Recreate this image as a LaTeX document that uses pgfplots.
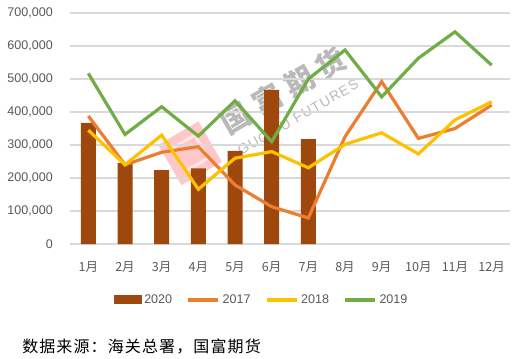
\documentclass[border=0pt]{standalone}
\usepackage{pgfplots}
\pgfplotsset{compat=1.18}
\usepackage{fontspec}
\setmainfont{Liberation Sans}
\newfontfamily\cjk{Noto Sans CJK SC}
\definecolor{cbar}{HTML}{9E480E}
\definecolor{c17}{HTML}{ED7D31}
\definecolor{c18}{HTML}{FFC000}
\definecolor{c19}{HTML}{70AD47}
\definecolor{ctxt}{HTML}{595959}
\definecolor{cgrid}{HTML}{D9D9D9}
\begin{document}
\begin{tikzpicture}
% watermark
\begin{scope}[opacity=0.55]
\node[rotate=30, fill=red!40, minimum width=35pt, minimum height=35pt, inner sep=0pt] at (90pt,68pt) {};
\node[rotate=30, draw=white, line width=2.2pt, minimum width=20pt, minimum height=20pt, inner sep=0pt] at (90pt,68pt) {};
\node[rotate=30, text=gray, font={\cjk\bfseries\addfontfeature{LetterSpace=25}\fontsize{22pt}{22pt}\selectfont}] at (160pt,115pt) {国富期货};
\node[rotate=30, text=gray, font={\addfontfeature{LetterSpace=8}\fontsize{10.5pt}{10.5pt}\selectfont}] at (171pt,95pt) {GUO FU FUTURES};
\end{scope}
\begin{axis}[
  at={(0,0)}, anchor=south west,
  scale only axis,
  width=330pt, height=173.25pt,
  xmin=0.5, xmax=12.5,
  ymin=0, ymax=700000,
  axis line style={draw=none},
  tick style={draw=none},
  ymajorgrids,
  grid style={cgrid, line width=0.8pt},
  ytick={0,100000,200000,300000,400000,500000,600000,700000},
  xtick={1,...,12},
  xticklabels={1月,2月,3月,4月,5月,6月,7月,8月,9月,10月,11月,12月},
  scaled y ticks=false,
  yticklabel style={/pgf/number format/fixed, /pgf/number format/1000 sep={,}, /pgf/number format/assume math mode=true, anchor=east, inner sep=0pt, xshift=-12.75pt, font=\fontsize{9.4pt}{10pt}\selectfont, text=ctxt},
  xticklabel style={anchor=north, inner sep=0pt, yshift=-13pt, font=\cjk\fontsize{9.4pt}{10pt}\selectfont, text=ctxt},
  major tick length=0pt,
  legend columns=4,
  legend style={draw=none, fill=none, at={(0.436,-0.242)}, anchor=center, font=\fontsize{9.4pt}{10pt}\selectfont, text=ctxt,
    /tikz/every even column/.append style={column sep=9pt}, inner sep=0pt},
  legend cell align=left,
]
\addplot[ybar, bar width=11.25pt, fill=cbar, draw=none,
  legend image code/.code={\fill[cbar] (0pt,-3.4pt) rectangle (21pt,3.4pt);}]
  coordinates {(1,367000) (2,245000) (3,224000) (4,229000) (5,282000) (6,467000) (7,318000)};
\addlegendentry{2020}
\addplot[c17, line width=2.4pt, mark=none,
  legend image code/.code={\draw[c17, line width=2.4pt] (0pt,0pt) -- (22.5pt,0pt);}]
  coordinates {(1,388000) (2,240000) (3,278000) (4,295000) (5,179000) (6,113000) (7,79000) (8,325000) (9,492000) (10,320000) (11,350000) (12,421000)};
\addlegendentry{2017}
\addplot[c18, line width=2.4pt, mark=none,
  legend image code/.code={\draw[c18, line width=2.4pt] (0pt,0pt) -- (22.5pt,0pt);}]
  coordinates {(1,345000) (2,240000) (3,330000) (4,166000) (5,260000) (6,280000) (7,231000) (8,302000) (9,337000) (10,273000) (11,376000) (12,431000)};
\addlegendentry{2018}
\addplot[c19, line width=2.4pt, mark=none,
  legend image code/.code={\draw[c19, line width=2.4pt] (0pt,0pt) -- (22.5pt,0pt);}]
  coordinates {(1,517000) (2,332000) (3,416000) (4,327000) (5,434000) (6,310000) (7,500000) (8,588000) (9,446000) (10,563000) (11,643000) (12,542000)};
\addlegendentry{2019}
\end{axis}
\node[anchor=west, inner sep=0pt, font={\cjk\addfontfeature{LetterSpace=7}\fontsize{12pt}{12pt}\selectfont}] at (-36pt,-77.25pt) {数据来源：海关总署，国富期货};
\path[use as bounding box] (-52.5pt,-85.5pt) rectangle (334.5pt,183pt);
\end{tikzpicture}
\end{document}
